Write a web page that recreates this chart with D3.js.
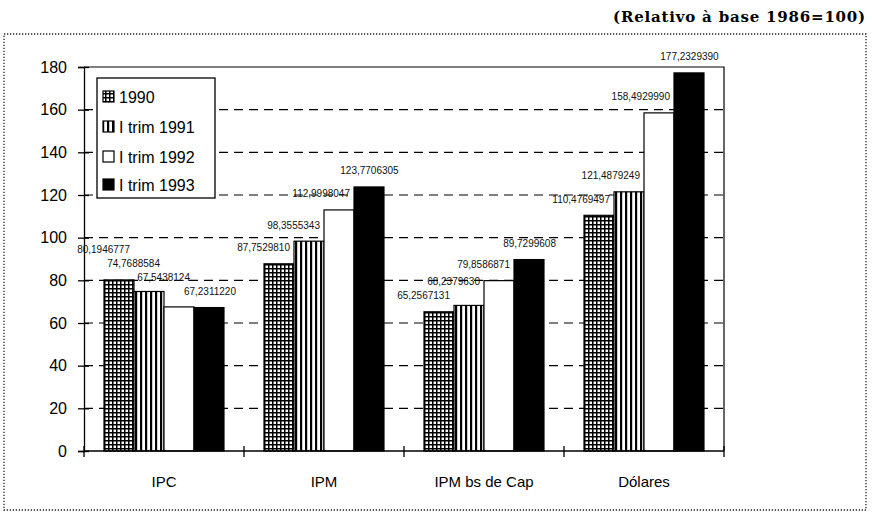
<!DOCTYPE html>
<html>
<head>
<meta charset="utf-8">
<script src="https://cdn.jsdelivr.net/npm/d3@7"></script>
<style>
  body { margin: 0; background: #fff; }
  svg { display: block; font-family: "Liberation Sans", Arial, sans-serif; }
</style>
</head>
<body>
<div id="chart"></div>
<script>
// data
var categories = ["IPC", "IPM", "IPM bs de Cap", "Dólares"];
var seriesNames = ["1990", "I trim 1991", "I trim 1992", "I trim 1993"];
var v1990 = [80.1946777, 87.7529810, 65.2567131, 110.4769497];
var v1991 = [74.7688584, 98.3555343, 68.2379630, 121.4879249];
var v1992 = [67.5438124, 112.9998047, 79.8586871, 158.4929990];
var v1993 = [67.2311220, 123.7706305, 89.7299608, 177.2329390];
var yTicks = [0, 20, 40, 60, 80, 100, 120, 140, 160, 180];
var allValues = [v1990, v1991, v1992, v1993];

var W = 872, H = 515;
var plot = {left: 84, right: 724, top: 67, bottom: 451};

var svg = d3.select("#chart").append("svg")
    .attr("width", W)
    .attr("height", H);

// patterns
var defs = svg.append("defs");
var grid = defs.append("pattern")
    .attr("id", "grid")
    .attr("patternUnits", "userSpaceOnUse")
    .attr("width", 4).attr("height", 4);
grid.append("rect").attr("width", 4).attr("height", 4).attr("fill", "#fff");
grid.append("rect").attr("width", 1.5).attr("height", 4).attr("fill", "#000");
grid.append("rect").attr("width", 4).attr("height", 1.5).attr("fill", "#000");

var stripes = defs.append("pattern")
    .attr("id", "stripes")
    .attr("patternUnits", "userSpaceOnUse")
    .attr("width", 5).attr("height", 5);
stripes.append("rect").attr("width", 5).attr("height", 5).attr("fill", "#fff");
stripes.append("rect").attr("width", 2.2).attr("height", 5).attr("fill", "#000");

var fills = ["url(#grid)", "url(#stripes)", "#fff", "#000"];

// outer dotted frame
svg.append("rect")
    .attr("x", 4).attr("y", 34)
    .attr("width", 862).attr("height", 476)
    .attr("fill", "none")
    .attr("stroke", "#222")
    .attr("stroke-width", 1.3)
    .attr("stroke-dasharray", "1.3,1.7");

// note at top right
svg.append("text")
    .attr("x", 866).attr("y", 22)
    .attr("text-anchor", "end")
    .style("font-family", "'DejaVu Serif', serif")
    .style("font-size", "15px")
    .style("font-weight", "bold")
    .style("letter-spacing", "0.8px")
    .text("(Relativo à base 1986=100)");

// scales
var x0 = d3.scaleBand().domain(categories).range([plot.left, plot.right]).padding(0);
var x1 = d3.scaleBand().domain(d3.range(seriesNames.length))
    .range([0, x0.bandwidth()]).paddingInner(0).paddingOuter(0.667);
var y = d3.scaleLinear().domain([0, 180]).range([plot.bottom, plot.top]);

// gridlines
svg.append("g").selectAll("line")
    .data(yTicks.filter(function(d) { return d > 0 && d < 180; }))
    .enter().append("line")
    .attr("x1", plot.left).attr("x2", plot.right)
    .attr("y1", function(d) { return y(d); })
    .attr("y2", function(d) { return y(d); })
    .attr("stroke", "#000")
    .attr("stroke-width", 1.2)
    .attr("stroke-dasharray", "9,6");

// plot frame (top and right)
svg.append("path")
    .attr("d", "M" + plot.left + "," + y(180) + "H" + plot.right + "V" + plot.bottom)
    .attr("fill", "none")
    .attr("stroke", "#000")
    .attr("stroke-width", 1.2);

var fmt = d3.format(".7f");
var labelW = function(d) { return fmt(d).length * 5.4; };

// label positions: earlier series end at their bar's right side, last one centred;
// when two labels in a group collide the higher value is pushed up
var labels = [];
categories.forEach(function(c, i) {
  var group = allValues.map(function(vals, s) {
    var bx = x0(c) + x1(s), w = labelW(vals[i]);
    var x2 = s === allValues.length - 1 ? bx + x1.bandwidth() / 2 + w / 2 : bx + x1.bandwidth() - 4;
    return {s: s, i: i, v: vals[i], x1: x2 - w, x2: x2, cy: y(vals[i]) - 16};
  });
  var placed = [];
  group.slice().sort(function(a, b) { return a.v - b.v; }).forEach(function(a) {
    var moved = true;
    while (moved) {
      moved = false;
      placed.forEach(function(b) {
        if (a.x2 > b.x1 && a.x1 < b.x2 && Math.abs(a.cy - b.cy) < 13) {
          a.cy = b.cy - 14;
          moved = true;
        }
      });
    }
    placed.push(a);
  });
  labels = labels.concat(group);
});

// bars + labels, series by series
allValues.forEach(function(vals, s) {
  var g = svg.append("g");
  g.selectAll("rect")
      .data(vals)
      .enter().append("rect")
      .attr("x", function(d, i) { return x0(categories[i]) + x1(s); })
      .attr("y", function(d) { return y(d); })
      .attr("width", x1.bandwidth())
      .attr("height", function(d) { return y(0) - y(d); })
      .attr("fill", fills[s])
      .attr("stroke", "#000")
      .attr("stroke-width", 1.2);
  g.selectAll("text")
      .data(labels.filter(function(l) { return l.s === s; }))
      .enter().append("text")
      .attr("x", function(l) { return l.x2; })
      .attr("y", function(l) { return l.cy + 3.5; })
      .attr("text-anchor", "end")
      .style("font-size", "10px")
      .style("fill", "#111")
      .text(function(l) { return fmt(l.v).replace(".", ","); });
});

// y axis
var yAxis = svg.append("g")
    .attr("transform", "translate(" + plot.left + ",0)")
    .call(d3.axisLeft(y).tickValues(yTicks).tickSize(6).tickPadding(11));
yAxis.select(".domain").attr("stroke-width", 1.3);
yAxis.selectAll(".tick line").attr("x1", 5).attr("x2", -6).attr("stroke-width", 1.3);
yAxis.selectAll(".tick text")
    .style("font-size", "16px")
    .style("font-family", "'Liberation Sans', Arial, sans-serif")
    .attr("fill", "#000");

// x axis
var xAxis = svg.append("g");
xAxis.append("line")
    .attr("x1", plot.left).attr("x2", plot.right)
    .attr("y1", y(0)).attr("y2", y(0))
    .attr("stroke", "#000").attr("stroke-width", 1.3);
var bounds = categories.map(function(c) { return x0(c); }).concat([plot.right]);
xAxis.selectAll(".xt")
    .data(bounds)
    .enter().append("line")
    .attr("x1", function(d) { return d; })
    .attr("x2", function(d) { return d; })
    .attr("y1", y(0) - 5).attr("y2", y(0) + 6)
    .attr("stroke", "#000").attr("stroke-width", 1.3);
xAxis.selectAll(".xl")
    .data(categories)
    .enter().append("text")
    .attr("x", function(d) { return x0(d) + x0.bandwidth() / 2; })
    .attr("y", 487)
    .attr("text-anchor", "middle")
    .style("font-size", "15px")
    .text(function(d) { return d; });

// legend
var legend = svg.append("g").attr("transform", "translate(97,78)");
legend.append("rect")
    .attr("width", 118).attr("height", 120)
    .attr("fill", "#fff")
    .attr("stroke", "#000")
    .attr("stroke-width", 1.3);
var rowY = [19, 49, 79, 107];
var item = legend.selectAll(".item")
    .data(seriesNames)
    .enter().append("g")
    .attr("transform", function(d, i) { return "translate(0," + rowY[i] + ")"; });
item.append("rect")
    .attr("x", 6).attr("y", -6)
    .attr("width", 11).attr("height", 11)
    .attr("fill", function(d, i) { return fills[i]; })
    .attr("stroke", "#000")
    .attr("stroke-width", 1.2);
item.append("text")
    .attr("x", 22).attr("y", 6)
    .style("font-size", "16px")
    .text(function(d) { return d; });
</script>
</body>
</html>
